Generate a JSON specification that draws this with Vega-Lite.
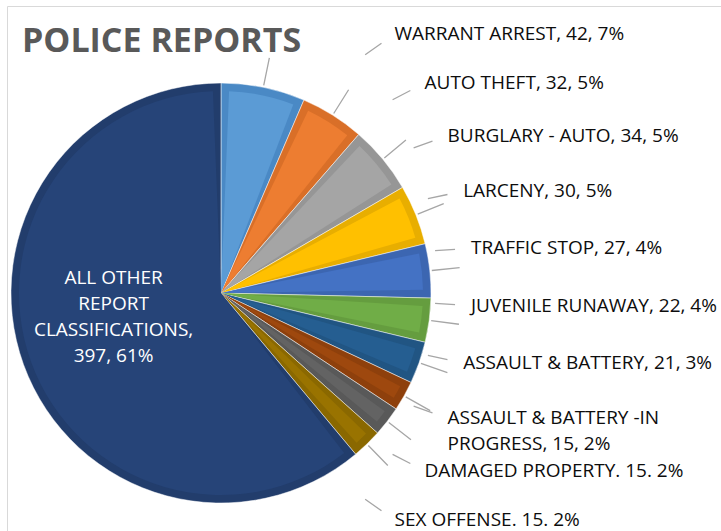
{
  "$schema": "https://vega.github.io/schema/vega-lite/v6.json",
  "width": 714,
  "height": 525,
  "autosize": {"type": "none"},
  "padding": {"left": 7, "top": 6, "right": 0, "bottom": 0},
  "background": "#ffffff",
  "view": {"stroke": "#d9d9d9", "strokeWidth": 1},
  "title": {
    "text": "POLICE REPORTS",
    "anchor": "start",
    "frame": "group",
    "orient": "top",
    "offset": 0,
    "dx": 15,
    "dy": 80,
    "baseline": "alphabetic",
    "font": "Open Sans",
    "fontSize": 34,
    "fontWeight": "bold",
    "color": "#595959"
  },
  "data": {
    "values": [
      {"category": "WARRANT ARREST", "count": 42, "label": "WARRANT ARREST, 42, 7%"},
      {"category": "AUTO THEFT", "count": 32, "label": "AUTO THEFT, 32, 5%"},
      {"category": "BURGLARY - AUTO", "count": 34, "label": "BURGLARY - AUTO, 34, 5%"},
      {"category": "LARCENY", "count": 30, "label": "LARCENY, 30, 5%"},
      {"category": "TRAFFIC STOP", "count": 27, "label": "TRAFFIC STOP, 27, 4%"},
      {"category": "JUVENILE RUNAWAY", "count": 22, "label": "JUVENILE RUNAWAY, 22, 4%"},
      {"category": "ASSAULT & BATTERY", "count": 21, "label": "ASSAULT & BATTERY, 21, 3%"},
      {"category": "ASSAULT & BATTERY -IN PROGRESS", "count": 15, "label": "ASSAULT & BATTERY -IN\nPROGRESS, 15, 2%"},
      {"category": "DAMAGED PROPERTY", "count": 15, "label": "DAMAGED PROPERTY. 15. 2%"},
      {"category": "SEX OFFENSE", "count": 15, "label": "SEX OFFENSE. 15. 2%"},
      {"category": "ALL OTHER REPORT CLASSIFICATIONS", "count": 397, "label": "ALL OTHER\nREPORT\nCLASSIFICATIONS,\n397, 61%"}
    ]
  },
  "transform": [{"window": [{"op": "row_number", "as": "rank"}]}],
  "layer": [
    {
      "encoding": {
        "x": {"datum": 0.2997, "type": "quantitative", "scale": {"domain": [0, 1]}, "axis": null},
        "y": {"datum": 0.4533, "type": "quantitative", "scale": {"domain": [0, 1]}, "axis": null},
        "theta": {"field": "count", "type": "quantitative", "stack": true},
        "order": {"field": "rank", "type": "quantitative"}
      },
      "layer": [
        {
          "mark": {"type": "arc", "outerRadius": 210, "stroke": "#ffffff", "strokeWidth": 0.8, "strokeOpacity": 0.6},
          "encoding": {
            "fill": {
              "field": "category",
              "type": "nominal",
              "legend": null,
              "scale": {
                "domain": ["WARRANT ARREST", "AUTO THEFT", "BURGLARY - AUTO", "LARCENY", "TRAFFIC STOP", "JUVENILE RUNAWAY", "ASSAULT & BATTERY", "ASSAULT & BATTERY -IN PROGRESS", "DAMAGED PROPERTY", "SEX OFFENSE", "ALL OTHER REPORT CLASSIFICATIONS"],
                "range": ["#4a89c5", "#d96f28", "#969696", "#e8ae00", "#3c66b1", "#659d3f", "#215583", "#8e400c", "#595959", "#8a6800", "#223d6c"]
              }
            }
          }
        },
        {
          "mark": {"type": "arc", "outerRadius": 202, "padAngle": 0.08},
          "encoding": {
            "color": {
              "field": "category",
              "type": "nominal",
              "legend": null,
              "scale": {
                "domain": ["WARRANT ARREST", "AUTO THEFT", "BURGLARY - AUTO", "LARCENY", "TRAFFIC STOP", "JUVENILE RUNAWAY", "ASSAULT & BATTERY", "ASSAULT & BATTERY -IN PROGRESS", "DAMAGED PROPERTY", "SEX OFFENSE", "ALL OTHER REPORT CLASSIFICATIONS"],
                "range": ["#5b9bd5", "#ed7d31", "#a5a5a5", "#ffc000", "#4472c4", "#70ad47", "#255e91", "#9e480e", "#636363", "#997300", "#264478"]
              }
            }
          }
        },
        {
          "transform": [{"filter": "datum.category !== 'ALL OTHER REPORT CLASSIFICATIONS'"}],
          "mark": {"type": "arc", "innerRadius": 212, "outerRadius": 240, "padAngle": 1.2, "filled": false, "stroke": "#a6a6a6", "strokeWidth": 1.3}
        },
        {
          "mark": {"type": "text", "radius": 110, "dx": -4, "dy": -53, "align": "center", "baseline": "middle", "lineBreak": "\n", "lineHeight": 26, "font": "Open Sans", "fontSize": 19, "fill": "#ffffff"},
          "encoding": {
            "text": {
              "condition": {"test": "datum.category === 'ALL OTHER REPORT CLASSIFICATIONS'", "field": "label"},
              "value": ""
            }
          }
        }
      ]
    },
    {
      "transform": [{"filter": "datum.category !== 'ALL OTHER REPORT CLASSIFICATIONS'"}],
      "encoding": {
        "x": {"datum": 0.063, "type": "quantitative", "scale": {"domain": [0, 1]}, "axis": null},
        "y": {"datum": 0.4838, "type": "quantitative", "scale": {"domain": [0, 1]}, "axis": null},
        "theta": {"aggregate": "count", "type": "quantitative", "stack": true, "scale": {"range": [0.8852, 2.2564]}},
        "order": {"field": "rank", "type": "quantitative"},
        "detail": {"field": "category", "type": "nominal"}
      },
      "layer": [
        {
          "mark": {"type": "arc", "innerRadius": 384, "outerRadius": 404, "padAngle": 0.5, "filled": false, "stroke": "#a6a6a6", "strokeWidth": 1.3}
        },
        {
          "mark": {"type": "text", "radius": 420, "align": "left", "baseline": "middle", "lineBreak": "\n", "lineHeight": 26, "font": "Open Sans", "fontSize": 19, "fill": "#0d0d0d"},
          "encoding": {
            "text": {"field": "label", "type": "nominal"}
          }
        }
      ]
    }
  ],
  "resolve": {"scale": {"theta": "independent"}}
}
